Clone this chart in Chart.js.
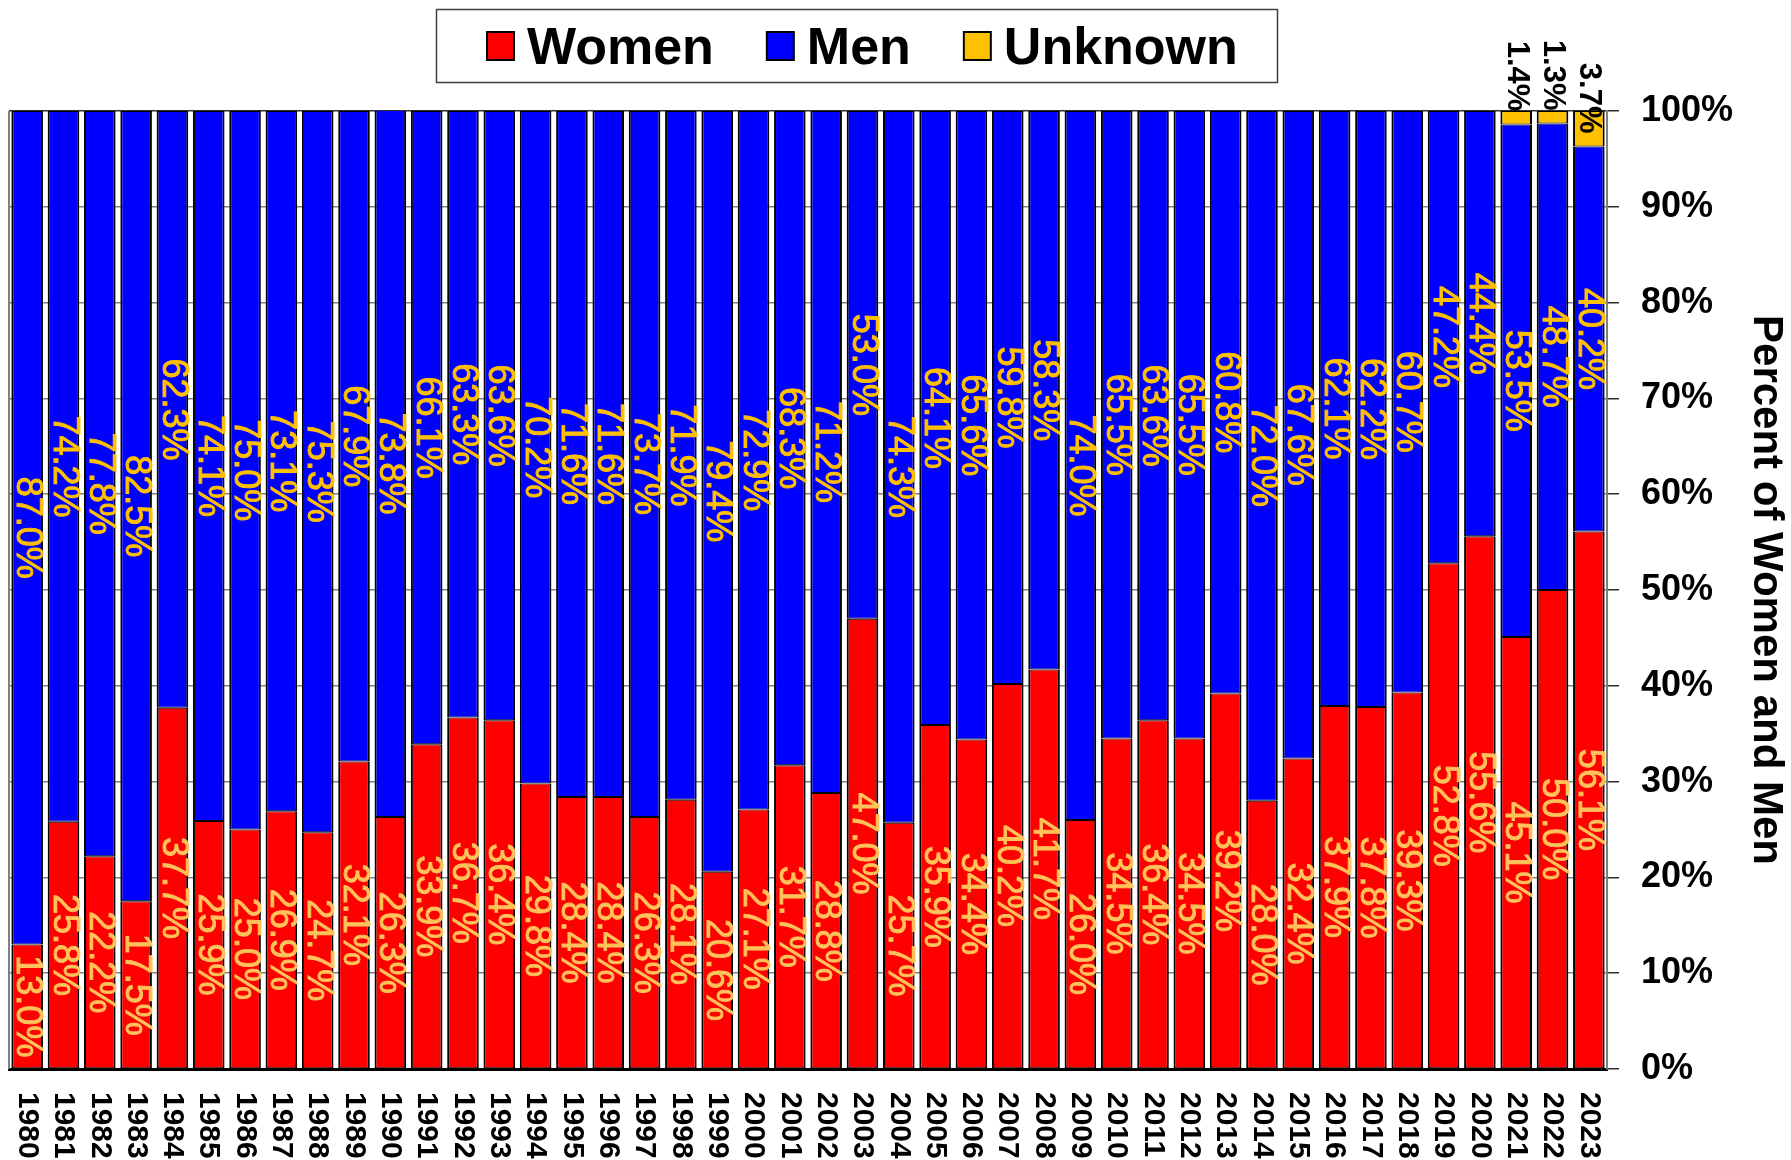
<!DOCTYPE html>
<html>
<head>
<meta charset="utf-8">
<script src="https://cdn.jsdelivr.net/npm/chart.js"></script>
<style>
    html, body { margin: 0; padding: 0; background: #fff; }
</style>
</head>
<body>
<canvas id="chart" width="1791" height="1160"></canvas>
<script>
const years = [1980, 1981, 1982, 1983, 1984, 1985, 1986, 1987, 1988, 1989,
    1990, 1991, 1992, 1993, 1994, 1995, 1996, 1997, 1998, 1999,
    2000, 2001, 2002, 2003, 2004, 2005, 2006, 2007, 2008, 2009,
    2010, 2011, 2012, 2013, 2014, 2015, 2016, 2017, 2018, 2019,
    2020, 2021, 2022, 2023];
const women = [13.0, 25.8, 22.2, 17.5, 37.7, 25.9, 25.0, 26.9, 24.7, 32.1,
    26.3, 33.9, 36.7, 36.4, 29.8, 28.4, 28.4, 26.3, 28.1, 20.6,
    27.1, 31.7, 28.8, 47.0, 25.7, 35.9, 34.4, 40.2, 41.7, 26.0,
    34.5, 36.4, 34.5, 39.2, 28.0, 32.4, 37.9, 37.8, 39.3, 52.8,
    55.6, 45.1, 50.0, 56.1];
const men = [87.0, 74.2, 77.8, 82.5, 62.3, 74.1, 75.0, 73.1, 75.3, 67.9,
    73.8, 66.1, 63.3, 63.6, 70.2, 71.6, 71.6, 73.7, 71.9, 79.4,
    72.9, 68.3, 71.2, 53.0, 74.3, 64.1, 65.6, 59.8, 58.3, 74.0,
    65.5, 63.6, 65.5, 60.8, 72.0, 67.6, 62.1, 62.2, 60.7, 47.2,
    44.4, 53.5, 48.7, 40.2];
const unknown = [0, 0, 0, 0, 0, 0, 0, 0, 0, 0,
    0, 0, 0, 0, 0, 0, 0, 0, 0, 0,
    0, 0, 0, 0, 0, 0, 0, 0, 0, 0,
    0, 0, 0, 0, 0, 0, 0, 0, 0, 0,
    0, 1.4, 1.3, 3.7];
const series_names = ['Women', 'Men', 'Unknown'];
const series_colors = ['#ff0000', '#0000ff', '#ffc000'];
const label_colors = ['#ffc35a', '#ffc000', '#000000'];
const axis_title = 'Percent of Women and Men';

const font_family = '"Liberation Sans", Arial, Helvetica, sans-serif';

function bar_border(ctx) {
    // zero-height segments get no outline
    if (!ctx.raw) return 0;
    return { left: 2, right: 2, top: 1, bottom: 1 };
}

function make_dataset(name, values, idx) {
    return {
        label: name,
        data: values,
        backgroundColor: series_colors[idx],
        borderColor: '#000',
        borderWidth: bar_border,
        borderSkipped: false,
        barPercentage: 0.87,
        categoryPercentage: 1.0
    };
}

// rotated value labels inside / above the bars
const bar_labels = {
    id: 'bar_labels',
    afterDatasetsDraw(chart) {
        const ctx = chart.ctx;
        chart.data.datasets.forEach((ds, di) => {
            const meta = chart.getDatasetMeta(di);
            meta.data.forEach((bar, i) => {
                const v = ds.data[i];
                if (!v) return;
                const text = v.toFixed(1) + '%';
                ctx.save();
                ctx.fillStyle = label_colors[di];
                ctx.strokeStyle = label_colors[di];
                ctx.lineWidth = 0.9;
                ctx.textBaseline = 'middle';
                if (di === 2) {
                    ctx.font = 'bold 31px ' + font_family;
                    ctx.translate(bar.x, bar.base - 13);
                    ctx.rotate(Math.PI / 2);
                    ctx.textAlign = 'right';
                    ctx.fillText(text, 0, 0);
                } else {
                    ctx.font = '36px ' + font_family;
                    ctx.translate(bar.x, (bar.y + bar.base) / 2);
                    ctx.rotate(Math.PI / 2);
                    ctx.textAlign = 'center';
                    ctx.fillText(text, 0, 0);
                    ctx.strokeText(text, 0, 0);
                }
                ctx.restore();
            });
        });
    },
    beforeDatasetsDraw(chart) {
        // thin left edge of the plot
        const ctx = chart.ctx;
        const area = chart.chartArea;
        ctx.save();
        ctx.strokeStyle = '#808080';
        ctx.lineWidth = 2;
        ctx.beginPath();
        ctx.moveTo(area.left, area.top);
        ctx.lineTo(area.left, area.bottom);
        ctx.stroke();
        ctx.restore();
    },
    afterDraw(chart) {
        const ctx = chart.ctx;
        const x_scale = chart.scales.x;

        // year labels, reading top to bottom
        ctx.save();
        ctx.font = 'bold 30px ' + font_family;
        ctx.fillStyle = '#000';
        ctx.textAlign = 'left';
        ctx.textBaseline = 'middle';
        years.forEach((yr, i) => {
            ctx.save();
            ctx.translate(x_scale.getPixelForValue(i), chart.chartArea.bottom + 23);
            ctx.rotate(Math.PI / 2);
            ctx.fillText(String(yr), 0, 0);
            ctx.restore();
        });
        ctx.restore();

        // legend box
        ctx.save();
        ctx.strokeStyle = '#404040';
        ctx.lineWidth = 1.5;
        ctx.strokeRect(436.5, 9.5, 841, 73);
        ctx.font = 'bold 52px ' + font_family;
        ctx.textBaseline = 'alphabetic';
        ctx.textAlign = 'left';
        let x = 487;
        series_names.forEach((name, i) => {
            ctx.fillStyle = series_colors[i];
            ctx.fillRect(x, 32, 27, 28);
            ctx.strokeStyle = '#000';
            ctx.lineWidth = 2;
            ctx.strokeRect(x, 32, 27, 28);
            x += 40;
            ctx.fillStyle = '#000';
            ctx.fillText(name, x, 64);
            x += ctx.measureText(name).width + 53;
        });
        ctx.restore();
    }
};

new Chart(document.getElementById('chart'), {
    type: 'bar',
    plugins: [bar_labels],
    data: {
        labels: years.map(String),
        datasets: [
            make_dataset(series_names[0], women, 0),
            make_dataset(series_names[1], men, 1),
            make_dataset(series_names[2], unknown, 2)
        ]
    },
    options: {
        responsive: false,
        animation: false,
        devicePixelRatio: 1,
        layout: { padding: { left: 9, top: 111, bottom: 91, right: 0 } },
        plugins: {
            legend: { display: false },
            tooltip: { enabled: false }
        },
        scales: {
            x: {
                stacked: true,
                ticks: { display: false },
                grid: { display: false, drawTicks: false },
                border: { color: '#000', width: 3 },
                afterFit: (s) => { s.height = 0; }
            },
            y: {
                stacked: true,
                position: 'right',
                min: 0,
                max: 100,
                ticks: {
                    stepSize: 10,
                    padding: 22,
                    color: '#000',
                    font: { family: font_family, size: 36, weight: 'bold' },
                    callback: (v) => v + '%'
                },
                grid: {
                    color: (c) => c.tick && c.tick.value === 100 ? '#303030' : '#808080',
                    lineWidth: 1.5,
                    tickLength: 12,
                    tickColor: '#303030'
                },
                border: { color: '#808080', width: 2 },
                title: {
                    display: true,
                    text: axis_title,
                    color: '#000',
                    padding: 0,
                    font: { family: font_family, size: 42, weight: 'bold' }
                },
                afterFit: (s) => { s.width = 184; }
            }
        }
    }
});
</script>
</body>
</html>
